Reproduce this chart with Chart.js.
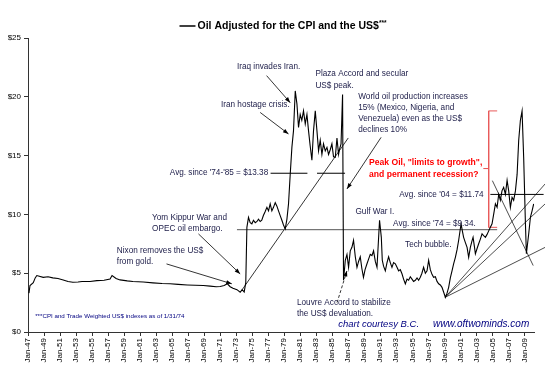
<!DOCTYPE html>
<html>
<head>
<meta charset="utf-8">
<script src="https://cdn.jsdelivr.net/npm/chart.js@4"></script>
<style>
  html, body { margin: 0; padding: 0; background: #fff; }
  #wrap { width: 545px; height: 373px; }
</style>
</head>
<body>
<div id="wrap"><canvas id="oil"></canvas></div>
<script>
/* Oil adjusted for CPI and US$, 1947-2009, with the hand-drawn averages, trend lines and notes */

const SANS = '"Liberation Sans", Arial, sans-serif';
const INK = '#1c1c48';
const NAVY = '#000080';
const RED = '#ff0000';
const BRACKET = '#e85a5a';

// x-axis ticks (years, labelled Jan-yy)
const tickYears = [1947, 1949, 1951, 1953, 1955, 1957, 1959, 1961, 1963, 1965, 1967, 1969, 1971, 1973, 1975, 1977,
  1979, 1981, 1983, 1985, 1987, 1989, 1991, 1993, 1995, 1997, 1999, 2001, 2003, 2005, 2007, 2009];
const yTicks = [0, 5, 10, 15, 20, 25];

// the series
const oilYears = [
  1947.12, 1947.25, 1947.66, 1947.9, 1948.1, 1948.9, 1949.5, 1950.1, 1950.75, 1951.4, 1952.0, 1952.6, 1953.25,
  1953.75, 1954.75, 1955.6, 1956.5, 1957.25, 1957.5, 1958.0, 1958.5, 1959.4, 1960.1, 1961.4, 1962.6, 1963.75,
  1964.75, 1965.75, 1966.9, 1967.9, 1968.9, 1969.75, 1970.5, 1971.0, 1971.5, 1971.9, 1972.25, 1972.6, 1973.1,
  1973.5, 1973.75, 1974.0, 1974.2,
  1974.34, 1974.54, 1974.75, 1974.96, 1975.16, 1975.38, 1975.6, 1975.79, 1976.0, 1976.2, 1976.4, 1976.6, 1976.84,
  1977.04, 1977.25, 1977.46, 1977.66, 1977.88, 1978.09, 1978.29, 1978.5, 1978.71, 1978.91, 1979.13, 1979.34,
  1979.54, 1979.75, 1979.96, 1980.16, 1980.38, 1980.59, 1980.79, 1981.0, 1981.2, 1981.41, 1981.63, 1981.84,
  1982.04, 1982.25, 1982.46, 1982.66, 1982.88, 1983.09, 1983.29, 1983.5, 1983.71, 1983.91, 1984.13, 1984.34,
  1984.54, 1984.75, 1984.96, 1985.16, 1985.38, 1985.59, 1985.79, 1985.9, 1986.1, 1986.29, 1986.41,
  1986.63, 1986.84, 1987.04, 1987.25, 1987.46, 1987.66, 1987.88, 1988.09, 1988.29, 1988.5, 1988.7, 1988.9,
  1989.1, 1989.34, 1989.54, 1989.75, 1989.96, 1990.16, 1990.38, 1990.59, 1990.75, 1990.91, 1991.13, 1991.25,
  1991.41, 1991.63, 1991.84, 1992.04, 1992.25, 1992.46, 1992.66, 1992.88, 1993.09, 1993.29, 1993.5, 1993.71,
  1993.91, 1994.13, 1994.34, 1994.54, 1994.75, 1994.96, 1995.16, 1995.38, 1995.59, 1995.79, 1996.0, 1996.2,
  1996.41, 1996.63, 1996.84, 1997.04, 1997.25, 1997.46, 1997.66, 1997.88, 1998.09, 1998.29, 1998.5, 1998.71,
  1998.91, 1999.13, 1999.34, 1999.54, 1999.75, 1999.96, 2000.16, 2000.38, 2000.59, 2000.79, 2000.94, 2001.09,
  2001.25, 2001.41, 2001.63, 2001.84, 2002.04, 2002.25, 2002.44, 2002.59, 2002.75, 2002.88, 2003.09, 2003.29,
  2003.5, 2003.71, 2003.91, 2004.13, 2004.34, 2004.54, 2004.75, 2004.96, 2005.16, 2005.38, 2005.59, 2005.79,
  2006.0, 2006.2, 2006.41, 2006.63, 2006.84, 2007.04, 2007.25, 2007.46, 2007.66, 2007.88, 2008.09, 2008.29,
  2008.5, 2008.71, 2008.91, 2009.13, 2009.25, 2009.54, 2009.75, 2009.96, 2010.16,
];
const oilValues = [
  3.3, 3.95, 4.2, 4.6, 4.8, 4.65, 4.7, 4.6, 4.55, 4.43, 4.3, 4.23, 4.25,
  4.3, 4.3, 4.37, 4.4, 4.5, 4.8, 4.55, 4.43, 4.35, 4.3, 4.25, 4.18, 4.12,
  4.1, 4.05, 4.0, 3.97, 3.95, 3.9, 3.85, 3.87, 3.95, 4.1, 3.85, 3.72, 3.6,
  3.38, 3.6, 3.4, 4.2,
  8.9, 9.75, 9.3, 9.2, 9.5, 9.3, 9.4, 9.6, 9.4, 9.5, 9.9, 10.2, 10.6,
  10.3, 10.9, 10.3, 10.6, 11.0, 10.7, 10.3, 9.9, 9.5, 9.1, 8.77, 9.6,
  10.9, 13.4, 15.7, 17.1, 20.5, 19.4, 17.4, 18.5, 18.0, 18.8, 17.7, 18.5,
  17.1, 15.8, 14.6, 17.1, 18.8, 17.1, 15.4, 16.3, 15.1, 16.0, 15.4, 15.7,
  15.1, 15.5, 16.0, 14.9, 14.85, 16.5, 15.1, 15.5, 16.0, 20.2, 4.4,
  6.1, 6.6, 5.5, 6.9, 7.2, 7.8, 6.4, 5.5, 6.0, 6.4, 5.4, 4.65,
  5.3, 5.8, 6.2, 6.6, 6.5, 6.9, 6.0, 5.5, 7.5, 9.5, 8.05, 6.1,
  5.6, 5.2, 5.9, 6.4, 5.9, 5.5, 5.9, 5.8, 5.5, 5.2, 5.3, 4.95,
  4.5, 4.1, 4.5, 4.4, 4.7, 4.5, 4.3, 4.4, 4.6, 4.4, 4.65, 5.0,
  5.5, 5.0, 5.2, 6.1, 5.3, 4.9, 4.65, 4.7, 4.3, 4.1, 4.0, 3.8,
  3.4, 2.95, 3.3, 3.8, 4.6, 5.2, 5.8, 6.35, 7.0, 7.8, 8.5, 9.2,
  8.6, 8.05, 7.6, 7.2, 6.35, 7.2, 7.7, 8.05, 7.3, 6.65, 7.1, 7.5,
  7.9, 8.35, 8.2, 8.05, 8.3, 8.6, 8.9, 9.2, 10.0, 10.9, 10.6, 11.7,
  11.2, 12.0, 12.3, 11.7, 12.9, 12.0, 10.6, 11.45, 11.2, 12.0, 13.4, 16.3,
  18.0, 18.8, 14.85, 9.2, 6.65, 8.35, 9.75, 10.3, 10.9,
];

// hand-drawn averages, trend lines and bracket: [year, $] end points
const avg7485 = [[1977.3, 13.5], [1981.9, 13.5], null, [1983.1, 13.5], [1986.6, 13.5]];
const avg74 = [[1973.1, 8.7], [2005.6, 8.7]];
const avg04 = [[2004.75, 11.7], [2011.4, 11.7]];
const trend7486 = [[1973.75, 3.6], [1987.0, 16.5]];
const fanHigh = [[1999.1, 2.95], [2011.6, 12.6]];
const fanMid = [[1999.1, 2.95], [2011.6, 10.9]];
const fanLow = [[1999.1, 2.95], [2011.6, 7.2]];
const fanDown = [[2005.0, 12.87], [2010.1, 5.65]];
const bracket = [[2005.6, 18.8], [2004.54, 18.8], [2004.54, 13.9], [2003.9, 13.9], [2004.54, 13.9], [2004.54, 8.9], [2005.6, 8.9]];

// arrows from the notes: [from, to]
const arrows = [
  { from: [1976.8, 21.8], to: [1979.75, 19.5] },
  { from: [1976.0, 18.67], to: [1979.54, 16.84] },
  { from: [1991.1, 16.55], to: [1986.84, 12.17] },
  { from: [1968.29, 8.34], to: [1973.5, 4.94] },
  { from: [1964.3, 5.79], to: [1972.46, 4.1] },
  { from: [1985.6, 2.5], to: [1986.84, 5.2], dash: true },
];

const notes = [
  { text: 'Iraq invades Iran.', x: 1973.1, y: 22.56 },
  { text: 'Iran hostage crisis.', x: 1971.1, y: 19.33 },
  { text: 'Plaza Accord and secular', x: 1982.9, y: 21.96 },
  { text: 'US$ peak.', x: 1982.9, y: 20.94 },
  { text: 'World oil production increases', x: 1988.25, y: 20.0 },
  { text: '15% (Mexico, Nigeria, and', x: 1988.25, y: 19.03 },
  { text: 'Venezuela) even as the US$', x: 1988.25, y: 18.1 },
  { text: 'declines 10%', x: 1988.25, y: 17.16 },
  { text: 'Peak Oil, "limits to growth",', x: 1989.6, y: 14.42, red: true },
  { text: 'and permanent recession?', x: 1989.6, y: 13.4, red: true },
  { text: "Avg. since '74-'85 = $13.38", x: 1977.0, y: 13.58, align: 'right' },
  { text: "Avg. since '04 = $11.74", x: 2003.9, y: 11.68, align: 'right' },
  { text: 'Gulf War I.', x: 1987.9, y: 10.2 },
  { text: "Avg. since '74 = $9.34.", x: 1992.6, y: 9.22 },
  { text: 'Tech bubble.', x: 1994.1, y: 7.43 },
  { text: 'Yom Kippur War and', x: 1962.5, y: 9.73 },
  { text: 'OPEC oil embargo.', x: 1962.5, y: 8.75 },
  { text: 'Nixon removes the US$', x: 1958.1, y: 6.92 },
  { text: 'from gold.', x: 1958.1, y: 5.99 },
  { text: 'Louvre Accord to stabilize', x: 1980.6, y: 2.46 },
  { text: 'the US$ devaluation.', x: 1980.6, y: 1.53 },
  { text: '***CPI and Trade Weighted US$ indexes as of 1/31/74', x: 1947.9, y: 1.32, small: true },
  { text: 'chart courtesy B.C.', x: 1985.75, y: 0.64, credit: true },
  { text: 'www.oftwominds.com', x: 1997.6, y: 0.64, credit: true, url: true },
];

const TITLE = 'Oil Adjusted for the CPI and the US$';

const pts = (arr) => arr.map((p) => (p ? { x: p[0], y: p[1] } : { x: NaN, y: NaN }));

function overlay(arr, color, width, extra) {
  return Object.assign({
    data: pts(arr), borderColor: color, borderWidth: width, pointRadius: 0,
    fill: false, tension: 0, spanGaps: false, clip: false,
  }, extra || {});
}

const notesPlugin = {
  id: 'notes',
  afterDatasetsDraw(chart) {
    const { ctx, chartArea } = chart;
    const sx = chart.scales.x, sy = chart.scales.y;
    ctx.save();

    arrows.forEach((a) => {
      const x1 = sx.getPixelForValue(a.from[0]), y1 = sy.getPixelForValue(a.from[1]);
      const x2 = sx.getPixelForValue(a.to[0]), y2 = sy.getPixelForValue(a.to[1]);
      ctx.strokeStyle = '#000'; ctx.fillStyle = '#000'; ctx.lineWidth = 0.8;
      ctx.setLineDash(a.dash ? [3, 2] : []);
      ctx.beginPath(); ctx.moveTo(x1, y1); ctx.lineTo(x2, y2); ctx.stroke();
      ctx.setLineDash([]);
      const ang = Math.atan2(y2 - y1, x2 - x1);
      ctx.beginPath();
      ctx.moveTo(x2, y2);
      ctx.lineTo(x2 - 6 * Math.cos(ang - 0.35), y2 - 6 * Math.sin(ang - 0.35));
      ctx.lineTo(x2 - 6 * Math.cos(ang + 0.35), y2 - 6 * Math.sin(ang + 0.35));
      ctx.closePath(); ctx.fill();
    });

    ctx.textBaseline = 'middle';
    notes.forEach((n) => {
      let font = '8.2px ' + SANS, color = INK;
      if (n.red) { font = 'bold 8.6px ' + SANS; color = RED; }
      if (n.small) { font = '6.2px ' + SANS; color = NAVY; }
      if (n.credit) { font = 'italic ' + (n.url ? '10px ' : '9.5px ') + SANS; color = NAVY; }
      ctx.font = font; ctx.fillStyle = color;
      ctx.textAlign = n.align || 'left';
      ctx.fillText(n.text, sx.getPixelForValue(n.x), sy.getPixelForValue(n.y));
    });

    // legend-style title
    ctx.font = 'bold 10.5px ' + SANS;
    const w = ctx.measureText(TITLE).width;
    ctx.font = 'bold 6.5px ' + SANS;
    const ws = ctx.measureText('***').width;
    const left = (chartArea.left + chartArea.right) / 2 - (18 + w + ws) / 2 + 2;
    ctx.strokeStyle = '#000'; ctx.lineWidth = 1.5;
    ctx.beginPath(); ctx.moveTo(left, 26); ctx.lineTo(left + 16, 26); ctx.stroke();
    ctx.fillStyle = '#000'; ctx.textAlign = 'left';
    ctx.font = 'bold 10.5px ' + SANS;
    ctx.fillText(TITLE, left + 18, 26);
    ctx.font = 'bold 6.5px ' + SANS;
    ctx.fillText('***', left + 18 + w, 23);
    ctx.restore();
  },
};

new Chart(document.getElementById('oil'), {
  type: 'line',
  data: {
    datasets: [
      {
        data: oilYears.map((x, i) => ({ x, y: oilValues[i] })),
        borderColor: '#000', borderWidth: 1.1, pointRadius: 0, tension: 0, fill: false,
      },
      overlay(avg7485, '#000', 1),
      overlay(avg74, '#555', 1),
      overlay(avg04, '#000', 1),
      overlay(trend7486, '#000', 0.8),
      overlay(fanHigh, '#000', 0.7),
      overlay(fanMid, '#000', 0.7),
      overlay(fanLow, '#000', 0.7),
      overlay(fanDown, '#000', 0.7),
      overlay(bracket, BRACKET, 1),
    ],
  },
  options: {
    responsive: true,
    maintainAspectRatio: false,
    animation: false,
    layout: { padding: { left: 0, top: 38, right: 11, bottom: 0 } },
    plugins: { legend: { display: false }, tooltip: { enabled: false } },
    scales: {
      x: {
        type: 'linear', min: 1947, max: 2010.2,
        afterBuildTicks: (s) => { s.ticks = tickYears.map((v) => ({ value: v })); },
        afterFit: (s) => { s.height = 41; },
        ticks: {
          autoSkip: false, minRotation: 90, maxRotation: 90, padding: 2,
          color: '#000', font: { size: 8, family: SANS },
          callback: (v) => 'Jan-' + String(v % 100).padStart(2, '0'),
        },
        grid: { drawOnChartArea: false, tickLength: 4, color: '#333' },
        border: { color: '#333' },
      },
      y: {
        min: 0, max: 25,
        afterBuildTicks: (s) => { s.ticks = yTicks.map((v) => ({ value: v })); },
        afterFit: (s) => { s.width = 28; },
        ticks: { padding: 3, color: '#000', font: { size: 8, family: SANS }, callback: (v) => '$' + v },
        grid: { drawOnChartArea: false, tickLength: 4, color: '#333' },
        border: { color: '#333' },
      },
    },
  },
  plugins: [notesPlugin],
});
</script>
</body>
</html>
